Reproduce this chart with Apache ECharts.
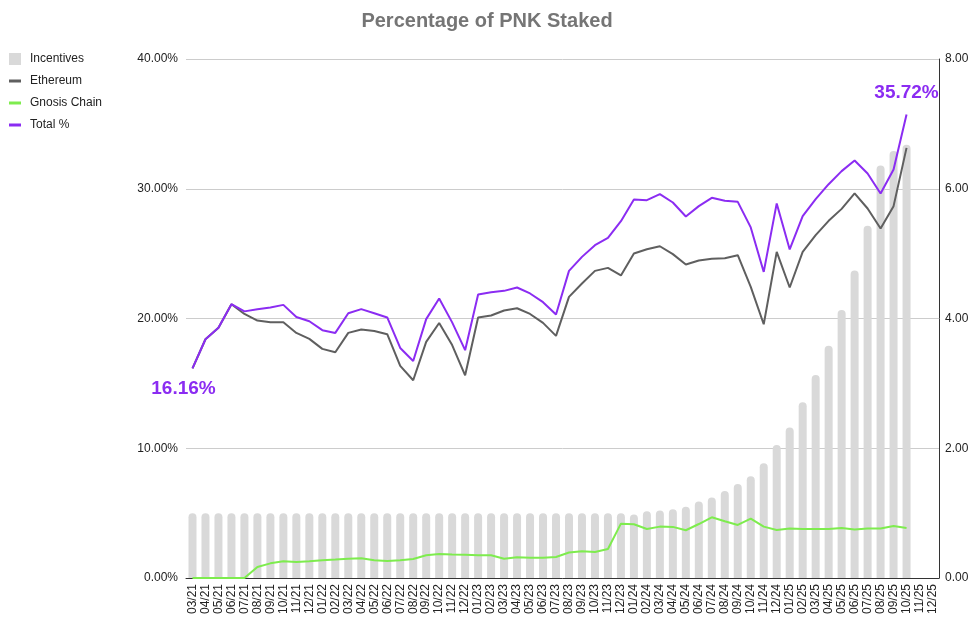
<!DOCTYPE html>
<html><head><meta charset="utf-8">
<script src="https://cdn.jsdelivr.net/npm/echarts@6/dist/echarts.min.js"></script>
<style>html,body{margin:0;padding:0;background:#fff}#c{width:974px;height:625px}</style>
</head><body><div id="c"></div>
<script>
const categories = ['03/21','04/21','05/21','06/21','07/21','08/21','09/21','10/21','11/21','12/21',
'01/22','02/22','03/22','04/22','05/22','06/22','07/22','08/22','09/22','10/22','11/22','12/22',
'01/23','02/23','03/23','04/23','05/23','06/23','07/23','08/23','09/23','10/23','11/23','12/23',
'01/24','02/24','03/24','04/24','05/24','06/24','07/24','08/24','09/24','10/24','11/24','12/24',
'01/25','02/25','03/25','04/25','05/25','06/25','07/25','08/25','09/25','10/25','11/25','12/25'];

const incentives = [1,1,1,1,1,1,1,1,1,1, 1,1,1,1,1,1,1,1,1,1, 1,1,1,1,1,1,1,1,1,1, 1,1,1,1,
0.98,1.03,1.04,1.06,1.10,1.18,1.24,1.34,1.45,1.57,1.77,2.05,2.32,2.71,3.13,3.58,4.13,4.74,5.43,6.36,6.58,6.68,null,null];

const ethereum = [16.16,18.40,19.28,21.10,20.35,19.84,19.71,19.71,18.89,18.43,
17.66,17.40,18.89,19.15,19.04,18.79,16.35,15.24,18.20,19.65,
17.95,15.62,20.08,20.23,20.62,20.79,20.35,19.66,18.66,21.67,
22.70,23.67,23.90,23.32,25.01,25.34,25.57,24.96,24.16,24.47,
24.60,24.65,24.88,22.44,19.56,25.14,22.39,25.14,26.42,27.53,
28.45,29.64,28.48,26.94,28.66,33.15,null,null];

const gnosis = [0,0,0,0,0,0.85,1.13,1.29,1.23,1.29,
1.36,1.42,1.49,1.52,1.36,1.31,1.36,1.47,1.75,1.85,
1.82,1.80,1.75,1.75,1.49,1.59,1.57,1.57,1.62,1.96,
2.06,2.00,2.24,4.19,4.14,3.78,3.96,3.94,3.68,4.16,
4.68,4.37,4.09,4.58,3.96,3.70,3.81,3.78,3.78,3.78,
3.86,3.73,3.81,3.81,4.01,3.86,null,null];

const total = [16.16,18.40,19.28,21.10,20.55,20.72,20.85,21.05,20.12,19.79,
19.10,18.89,20.41,20.72,20.41,20.08,17.73,16.73,19.95,21.54,
19.70,17.56,21.85,22.03,22.13,22.39,21.93,21.26,20.31,23.67,
24.75,25.65,26.21,27.50,29.17,29.12,29.58,28.94,27.86,28.66,
29.30,29.07,28.99,27.02,23.59,28.87,25.32,27.89,29.20,30.35,
31.36,32.18,31.18,29.64,31.49,35.72,null,null];

const PURPLE = '#8b2cf2';
const font = '"Liberation Sans", Arial, sans-serif';

const totalData = total.map((v, i) => {
  if (i === 0) return {value: v, label: {show: true, position: 'bottom', distance: 11, offset: [-9, 0]}};
  if (i === 55) return {value: v, label: {show: true, position: 'top', distance: 12, offset: [0, 0]}};
  return v;
});

const lineIcon = 'path://M0,0 M0,4.5 L12,4.5 L12,7.5 L0,7.5 Z M16,12';
const boxIcon = 'path://M0,0 L12,0 L12,12 L0,12 Z M16,12';

const chart = echarts.init(document.getElementById('c'), null, {renderer: 'canvas'});
chart.setOption({
  animation: false,
  backgroundColor: '#fff',
  textStyle: {fontFamily: font},
  title: {
    text: 'Percentage of PNK Staked', left: 'center', top: 6,
    textStyle: {fontFamily: font, fontSize: 20, fontWeight: 'bold', color: '#757575'}
  },
  legend: {
    orient: 'vertical', left: 4, top: 48, itemGap: 10, itemWidth: 16, itemHeight: 12,
    textStyle: {fontFamily: font, fontSize: 12, color: '#222'},
    data: [
      {name: 'Incentives', icon: boxIcon},
      {name: 'Ethereum', icon: lineIcon},
      {name: 'Gnosis Chain', icon: lineIcon},
      {name: 'Total %', icon: lineIcon}
    ]
  },
  grid: {left: 186, right: 35, top: 59, bottom: 47, containLabel: false},
  xAxis: {
    type: 'category', data: categories, boundaryGap: true,
    axisLine: {lineStyle: {color: '#333', width: 1}},
    axisTick: {show: false},
    axisLabel: {interval: 0, rotate: 90, margin: 6, fontSize: 12, color: '#222', fontFamily: font}
  },
  yAxis: [
    {
      type: 'value', min: 0, max: 40, interval: 10, position: 'left',
      axisLine: {show: false}, axisTick: {show: false},
      axisLabel: {formatter: v => v.toFixed(2) + '%', fontSize: 12, color: '#222', margin: 8, fontFamily: font},
      splitLine: {lineStyle: {color: '#cccccc', width: 1}}
    },
    {
      type: 'value', min: 0, max: 8, interval: 2, position: 'right',
      axisLine: {show: true, lineStyle: {color: '#333', width: 1}}, axisTick: {show: false},
      axisLabel: {formatter: v => v.toFixed(2), fontSize: 12, color: '#222', margin: 6, fontFamily: font},
      splitLine: {show: false}
    }
  ],
  series: [
    {
      name: 'Incentives', type: 'bar', yAxisIndex: 1, data: incentives, barWidth: 8,
      itemStyle: {color: '#d9d9d9', borderRadius: [4, 4, 0, 0]}, z: 1
    },
    {
      name: 'Ethereum', type: 'line', yAxisIndex: 0, data: ethereum, symbol: 'none',
      lineStyle: {color: '#5f5f5f', width: 2}, itemStyle: {color: '#5f5f5f'}, z: 3
    },
    {
      name: 'Gnosis Chain', type: 'line', yAxisIndex: 0, data: gnosis, symbol: 'none',
      lineStyle: {color: '#7eec4e', width: 2}, itemStyle: {color: '#7eec4e'}, z: 3
    },
    {
      name: 'Total %', type: 'line', yAxisIndex: 0, data: totalData,
      symbol: 'circle', symbolSize: 0, showSymbol: true,
      lineStyle: {color: PURPLE, width: 2}, itemStyle: {color: PURPLE}, z: 4,
      label: {show: false, formatter: p => p.value.toFixed(2) + '%', fontSize: 19, fontWeight: 'bold', color: PURPLE, fontFamily: font}
    }
  ]
});
</script>
</body></html>
